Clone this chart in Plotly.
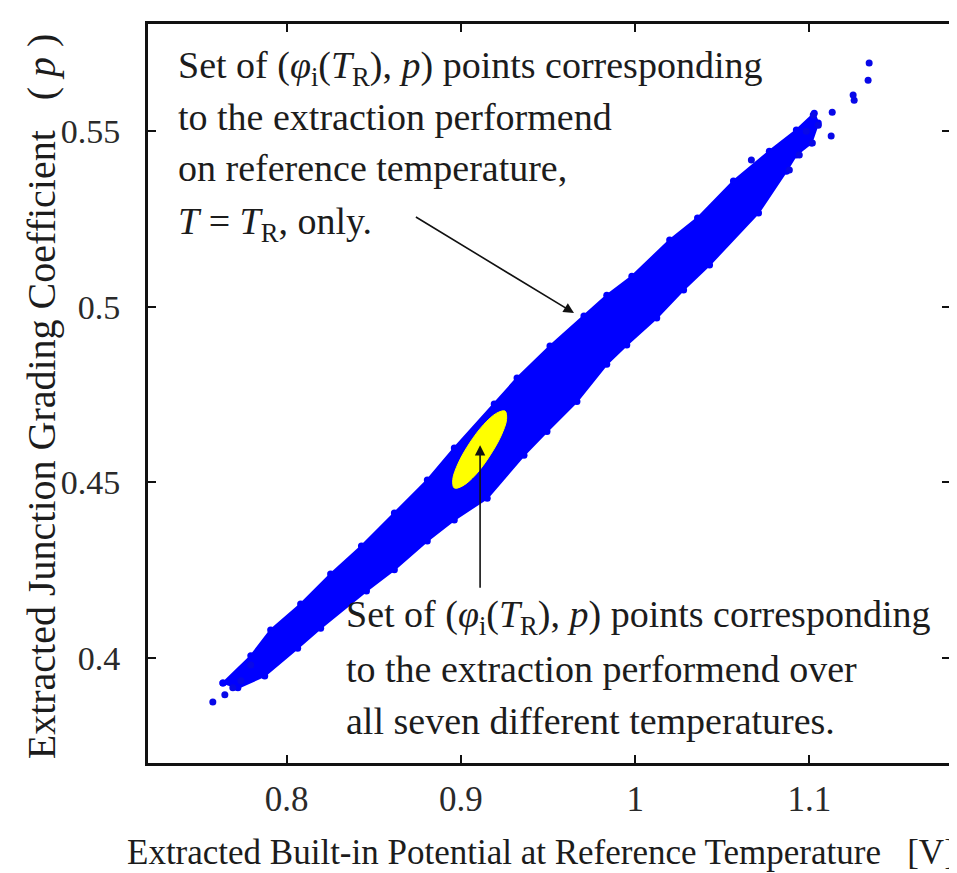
import plotly.graph_objects as go

# ---- data ----
# upper-left edge of the dense blue cloud (from lower-left to upper-right)
band_upper_x = [0.7634, 0.7794, 0.7908, 0.8080, 0.8252, 0.8429, 0.8618, 0.8807, 0.8962, 0.9191,
                0.9322, 0.9511, 0.9706, 0.9837, 0.9981, 1.0198, 1.0358, 1.0564, 1.0770, 1.0925, 1.1028]
band_upper_y = [0.3929, 0.4006, 0.4080, 0.4154, 0.4239, 0.4319, 0.4413, 0.4507, 0.4598, 0.4723,
                0.4797, 0.4888, 0.4974, 0.5033, 0.5087, 0.5190, 0.5253, 0.5358, 0.5443, 0.5503, 0.5551]
# lower-right edge of the dense blue cloud (from upper-right back to lower-left)
band_lower_x = [1.1051, 1.1011, 1.0925, 1.0868, 1.0708, 1.0427, 1.0278, 1.0124, 0.9952, 0.9837,
                0.9666, 0.9494, 0.9362, 0.9151, 0.8962, 0.8807, 0.8618, 0.8458, 0.8195, 0.8063,
                0.7874, 0.7720]
band_lower_y = [0.5523, 0.5466, 0.5432, 0.5386, 0.5267, 0.5119, 0.5048, 0.4968, 0.4891, 0.4836,
                0.4730, 0.4645, 0.4577, 0.4455, 0.4393, 0.4333, 0.4251, 0.4191, 0.4085, 0.4028,
                0.3949, 0.3915]
# isolated points at both ends of the cloud
sparse_x = [1.1343, 1.1337, 1.1257, 1.1251, 1.1131, 1.1125, 1.1017, 1.1022, 1.1051, 1.0982,
            1.0942, 1.0885, 1.0667, 0.7576, 0.7645, 0.7691, 0.7737, 0.7794]
sparse_y = [0.5694, 0.5645, 0.5588, 0.5603, 0.5554, 0.5486, 0.5466, 0.5546, 0.5517, 0.5500,
            0.5432, 0.5389, 0.5418, 0.3875, 0.3895, 0.3915, 0.3935, 0.3980]
# outline of the yellow cluster (extraction at reference temperature only)
yellow_x = [0.9253, 0.9262, 0.9230, 0.9165, 0.9085, 0.9010, 0.8962, 0.8953, 0.8985, 0.9050, 0.9131, 0.9205]
yellow_y = [0.4703, 0.4679, 0.4632, 0.4575, 0.4522, 0.4490, 0.4484, 0.4508, 0.4555, 0.4612, 0.4665, 0.4697]

x_ticks = [0.8, 0.9, 1.0, 1.1]
x_tick_labels = ["0.8", "0.9", "1", "1.1"]
y_ticks = [0.4, 0.45, 0.5, 0.55]
y_tick_labels = ["0.4", "0.45", "0.5", "0.55"]

x_title = "Extracted Built-in Potential at Reference Temperature&nbsp;&nbsp;&nbsp;[V]"
y_title = "Extracted Junction Grading Coefficient&nbsp;&nbsp;&nbsp;(&nbsp;<i>p</i>&nbsp;)"
upper_note = ["Set of (<i>φ</i><sub>i</sub>(<i>T</i><sub>R</sub>), <i>p</i>) points corresponding",
              "to the extraction performend",
              "on reference temperature,",
              "<i>T</i> = <i>T</i><sub>R</sub>, only."]
lower_note = ["Set of (<i>φ</i><sub>i</sub>(<i>T</i><sub>R</sub>), <i>p</i>) points corresponding",
              "to the extraction performend over",
              "all seven different temperatures."]

# arrow (head, tail) in data units
arrow_upper = ((0.9649, 0.4982), (0.8733, 0.5258))
arrow_lower = ((0.9110, 0.4606), (0.9110, 0.4196))

BLUE = "#0000ff"
FONT = "Liberation Serif"
INK = "#1c1c1c"

fig = go.Figure()
fig.add_trace(go.Scatter(
    x=band_upper_x + band_lower_x + [band_upper_x[0]],
    y=band_upper_y + band_lower_y + [band_upper_y[0]],
    mode="lines+markers", fill="toself", fillcolor=BLUE,
    line=dict(color=BLUE, width=2), marker=dict(color=BLUE, size=7),
    hoverinfo="skip", showlegend=False))
fig.add_trace(go.Scatter(
    x=sparse_x, y=sparse_y, mode="markers",
    marker=dict(color="#0808e8", size=7), hoverinfo="skip", showlegend=False))
fig.add_trace(go.Scatter(
    x=yellow_x + [yellow_x[0]], y=yellow_y + [yellow_y[0]],
    mode="lines", fill="toself", fillcolor="#ffff00",
    line=dict(color="#ffff00", width=1, shape="spline"),
    hoverinfo="skip", showlegend=False))

L, R, T, B = 140, 13, 16, 118
W, H = 957, 873
pw, ph = W - L - R, H - T - B


def px(xp):
    return (xp - L) / pw


def py(yp):
    return (H - B - yp) / ph


annotations = []
for (head, tail) in (arrow_upper, arrow_lower):
    annotations.append(dict(x=head[0], y=head[1], ax=tail[0], ay=tail[1],
                            xref="x", yref="y", axref="x", ayref="y", text="",
                            showarrow=True, arrowhead=2, arrowsize=1.3, arrowwidth=1.6,
                            arrowcolor="#111111"))
for txt, yc in zip(upper_note, [60, 109, 160, 216]):
    annotations.append(dict(x=px(168), y=py(yc), xref="paper", yref="paper", text=txt,
                            showarrow=False, xanchor="left", yanchor="middle",
                            font=dict(family=FONT, size=38, color=INK)))
for txt, yc in zip(lower_note, [609, 661, 713]):
    annotations.append(dict(x=px(336), y=py(yc), xref="paper", yref="paper", text=txt,
                            showarrow=False, xanchor="left", yanchor="middle",
                            font=dict(family=FONT, size=38, color=INK)))
annotations.append(dict(x=px(534), y=py(844), xref="paper", yref="paper", text=x_title,
                        showarrow=False, xanchor="center", yanchor="middle",
                        font=dict(family=FONT, size=35, color=INK)))
annotations.append(dict(x=px(33), y=py(388), xref="paper", yref="paper", text=y_title,
                        showarrow=False, xanchor="center", yanchor="middle", textangle=-90,
                        font=dict(family=FONT, size=40, color=INK)))

axis_common = dict(showgrid=False, zeroline=False, showline=True, linewidth=3,
                   linecolor="#111111", mirror="ticks", ticks="inside", ticklen=8,
                   tickwidth=2, tickcolor="#111111")

fig.update_layout(
    width=W, height=H,
    margin=dict(l=L, r=R, t=T, b=B),
    paper_bgcolor="white", plot_bgcolor="white",
    xaxis=dict(range=[0.7204, 1.1807], tickvals=x_ticks, ticktext=x_tick_labels,
               ticklabelstandoff=3, tickfont=dict(family=FONT, size=35, color="#2a2a2a"),
               **axis_common),
    yaxis=dict(range=[0.3701, 0.5805], tickvals=y_ticks, ticktext=y_tick_labels,
               ticklabelstandoff=18, tickfont=dict(family=FONT, size=34, color="#2a2a2a"),
               **axis_common),
    annotations=annotations,
    showlegend=False,
)

fig.write_html("out.html")
